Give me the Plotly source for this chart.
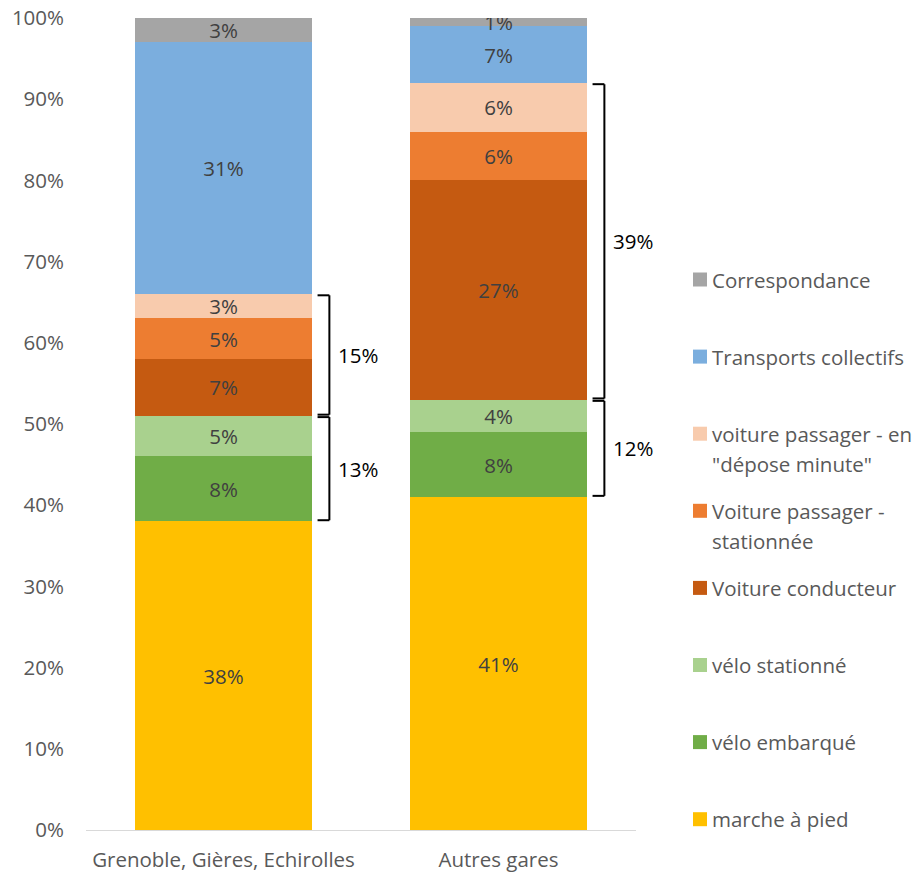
import plotly.graph_objects as go

# Stations and transport modes (shares of access trips, %)
stations = ["Grenoble, Gières, Echirolles", "Autres gares"]
modes = [
    "marche à pied",
    "vélo embarqué",
    "vélo stationné",
    "Voiture conducteur",
    "Voiture passager -<br>stationnée",
    "voiture passager - en<br>\"dépose minute\"",
    "Transports collectifs",
    "Correspondance",
]
grenoble_values = [38, 8, 5, 7, 5, 3, 31, 3]
autres_values = [41, 8, 4, 27, 6, 6, 7, 1]
colors = ["#FFC000", "#70AD47", "#A9D18E", "#C55A11", "#ED7D31", "#F8CBAD", "#7BAEDE", "#A5A5A5"]
y_ticks = list(range(0, 101, 10))

FONT = "'Open Sans', sans-serif"
FS = 20.5
TXT = "#595959"

fig = go.Figure()
for i, mode in enumerate(modes):
    vals = [grenoble_values[i], autres_values[i]]
    fig.add_trace(go.Bar(
        x=stations, y=vals, name=mode.replace("<br>", " "),
        text=[f"{v}%" for v in vals], texttemplate="%{text}",
        marker=dict(color=colors[i], line=dict(width=0)),
        textposition="inside", insidetextanchor="middle",
        textangle=0, textfont=dict(color="#404040", size=FS, family=FONT),
        showlegend=False,
    ))

# Curly brackets grouping car modes and bike modes
half_w = 0.322
brackets = [
    (0, [1, 2]),        # bikes, Grenoble
    (0, [3, 4, 5]),     # cars, Grenoble
    (1, [1, 2]),        # bikes, autres
    (1, [3, 4, 5]),     # cars, autres
]
shapes = []
annotations = []
for xi, idx in brackets:
    vals = grenoble_values if xi == 0 else autres_values
    lo = sum(vals[:idx[0]]) + 0.15
    hi = sum(vals[:idx[-1] + 1]) - 0.15
    total = sum(vals[j] for j in idx)
    x_tick = xi + half_w + 0.02
    x_vert = xi + half_w + 0.063
    line = dict(color="black", width=2)
    for y0, y1, xa, xb in [(lo, lo, x_tick, x_vert), (hi, hi, x_tick, x_vert), (lo, hi, x_vert, x_vert)]:
        shapes.append(dict(type="line", xref="x", yref="y", x0=xa, x1=xb, y0=y0, y1=y1, line=line))
    annotations.append(dict(
        x=x_vert + 0.024, y=(lo + hi) / 2, xref="x", yref="y", text=f"{total}%",
        showarrow=False, xanchor="left", yanchor="middle",
        font=dict(color="black", size=FS, family=FONT),
    ))

# Legend drawn at the right, top entry = last stacked series
plot_l, plot_r, plot_t, plot_b = 86, 636, 18, 830
W = plot_r - plot_l
H = plot_b - plot_t
def px_x(px):
    return (px - plot_l) / W
def px_y(py):
    return (plot_b - py) / H

first_center, step = 279.5, 77.1
for k, i in enumerate(reversed(range(len(modes)))):
    cy = first_center + k * step
    shapes.append(dict(
        type="rect", xref="paper", yref="paper",
        x0=px_x(693), x1=px_x(707), y0=px_y(cy + 7), y1=px_y(cy - 7),
        fillcolor=colors[i], line=dict(width=0),
    ))
    for ln, part in enumerate(modes[i].split("<br>")):
        annotations.append(dict(
            x=px_x(710), y=px_y(cy + ln * 30), xref="paper", yref="paper",
            text=part, showarrow=False, xanchor="left", yanchor="middle",
            font=dict(color=TXT, size=FS, family=FONT),
        ))

fig.update_layout(
    barmode="stack",
    bargap=0.356,
    width=921, height=873,
    margin=dict(l=plot_l, r=921 - plot_r, t=plot_t, b=873 - plot_b, autoexpand=False),
    plot_bgcolor="white", paper_bgcolor="white",
    font=dict(family=FONT, color=TXT, size=FS),
    uniformtext=dict(minsize=FS, mode="show"),
    shapes=shapes,
    annotations=annotations,
    xaxis=dict(
        range=[-0.5, 1.5], autorange=False, automargin=False,
        showline=True, linecolor="#D9D9D9", linewidth=1, showgrid=False,
        ticks="", ticklabelstandoff=11, tickfont=dict(size=FS, color=TXT),
    ),
    yaxis=dict(
        range=[0, 100], autorange=False, automargin=False,
        tickvals=y_ticks, ticktext=[f"{v}%" for v in y_ticks],
        showgrid=False, zeroline=False, showline=False, ticks="",
        ticklabelstandoff=21, tickfont=dict(size=FS, color=TXT),
    ),
)

fig.write_html("out.html")
